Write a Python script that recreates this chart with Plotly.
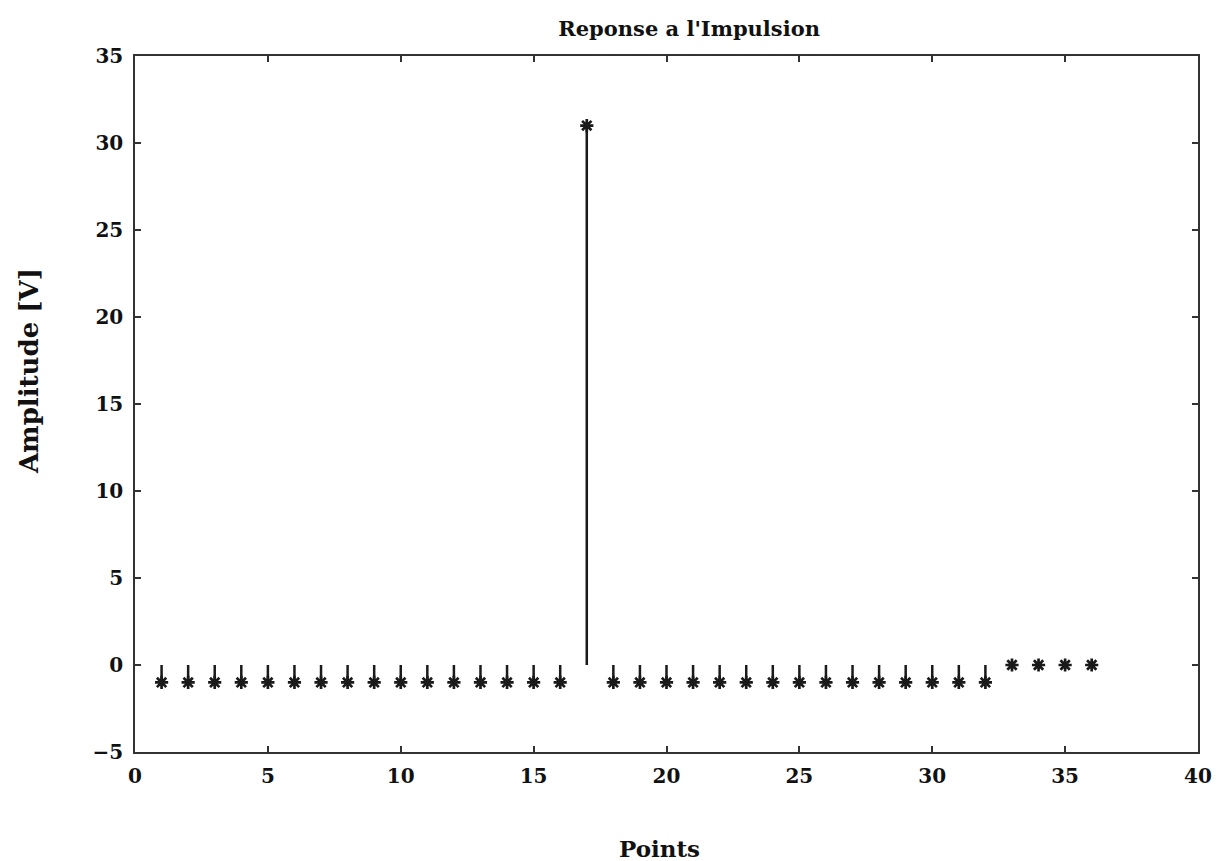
import plotly.graph_objects as go

points = list(range(1, 37))
amplitude = [-1] * 16 + [31] + [-1] * 15 + [0] * 4

title_text = "Reponse a l'Impulsion"
x_label = "Points"
y_label = "Amplitude [V]"
x_ticks = [0, 5, 10, 15, 20, 25, 30, 35, 40]
y_ticks = [-5, 0, 5, 10, 15, 20, 25, 30, 35]

stem_x, stem_y = [], []
for p, a in zip(points, amplitude):
    stem_x += [p, p, None]
    stem_y += [0, a, None]

font_family = "DejaVu Serif"
ink = "#1a1a1a"
fig = go.Figure()
fig.add_trace(go.Scatter(x=stem_x, y=stem_y, mode="lines",
                         line=dict(color=ink, width=2.5),
                         hoverinfo="skip", showlegend=False))
fig.add_trace(go.Scatter(x=points, y=amplitude, mode="markers",
                         marker=dict(symbol="asterisk-open", size=11, color=ink,
                                     line=dict(color=ink, width=2.7)),
                         showlegend=False))

tick_font = dict(family=font_family, size=20, color="#111111", weight="bold")
axis_common = dict(showgrid=False, zeroline=False, showline=True, mirror="ticks",
                   linecolor="#333333", linewidth=1.5, ticks="inside", ticklen=6,
                   tickcolor="#333333", tickwidth=1.5, tickfont=tick_font)

fig.update_xaxes(range=[0, 40], tickvals=x_ticks, ticktext=[str(v) for v in x_ticks],
                 ticklabelstandoff=5, **axis_common)
fig.update_yaxes(range=[-5, 35], tickvals=y_ticks,
                 ticktext=[("\u22125" if v == -5 else str(v)) for v in y_ticks],
                 ticklabelstandoff=6, **axis_common)

fig.update_layout(
    width=1224, height=861,
    margin=dict(l=135, r=24, t=56, b=109),
    plot_bgcolor="white", paper_bgcolor="white",
    font=dict(family=font_family, color="#111111"),
    title=dict(text="<b>" + title_text + "</b>", x=0.563, xanchor="center",
               y=0.967, yanchor="middle", font=dict(family=font_family, size=21)),
    annotations=[
        dict(text="<b>" + x_label + "</b>", xref="paper", yref="paper",
             x=0.493, y=-0.138, xanchor="center", yanchor="middle", showarrow=False,
             font=dict(family=font_family, size=23)),
        dict(text="<b>" + y_label + "</b>", xref="paper", yref="paper",
             x=-0.099, y=0.547, xanchor="center", yanchor="middle", showarrow=False,
             textangle=-90, font=dict(family=font_family, size=26)),
    ],
)

fig.write_html("out.html")
